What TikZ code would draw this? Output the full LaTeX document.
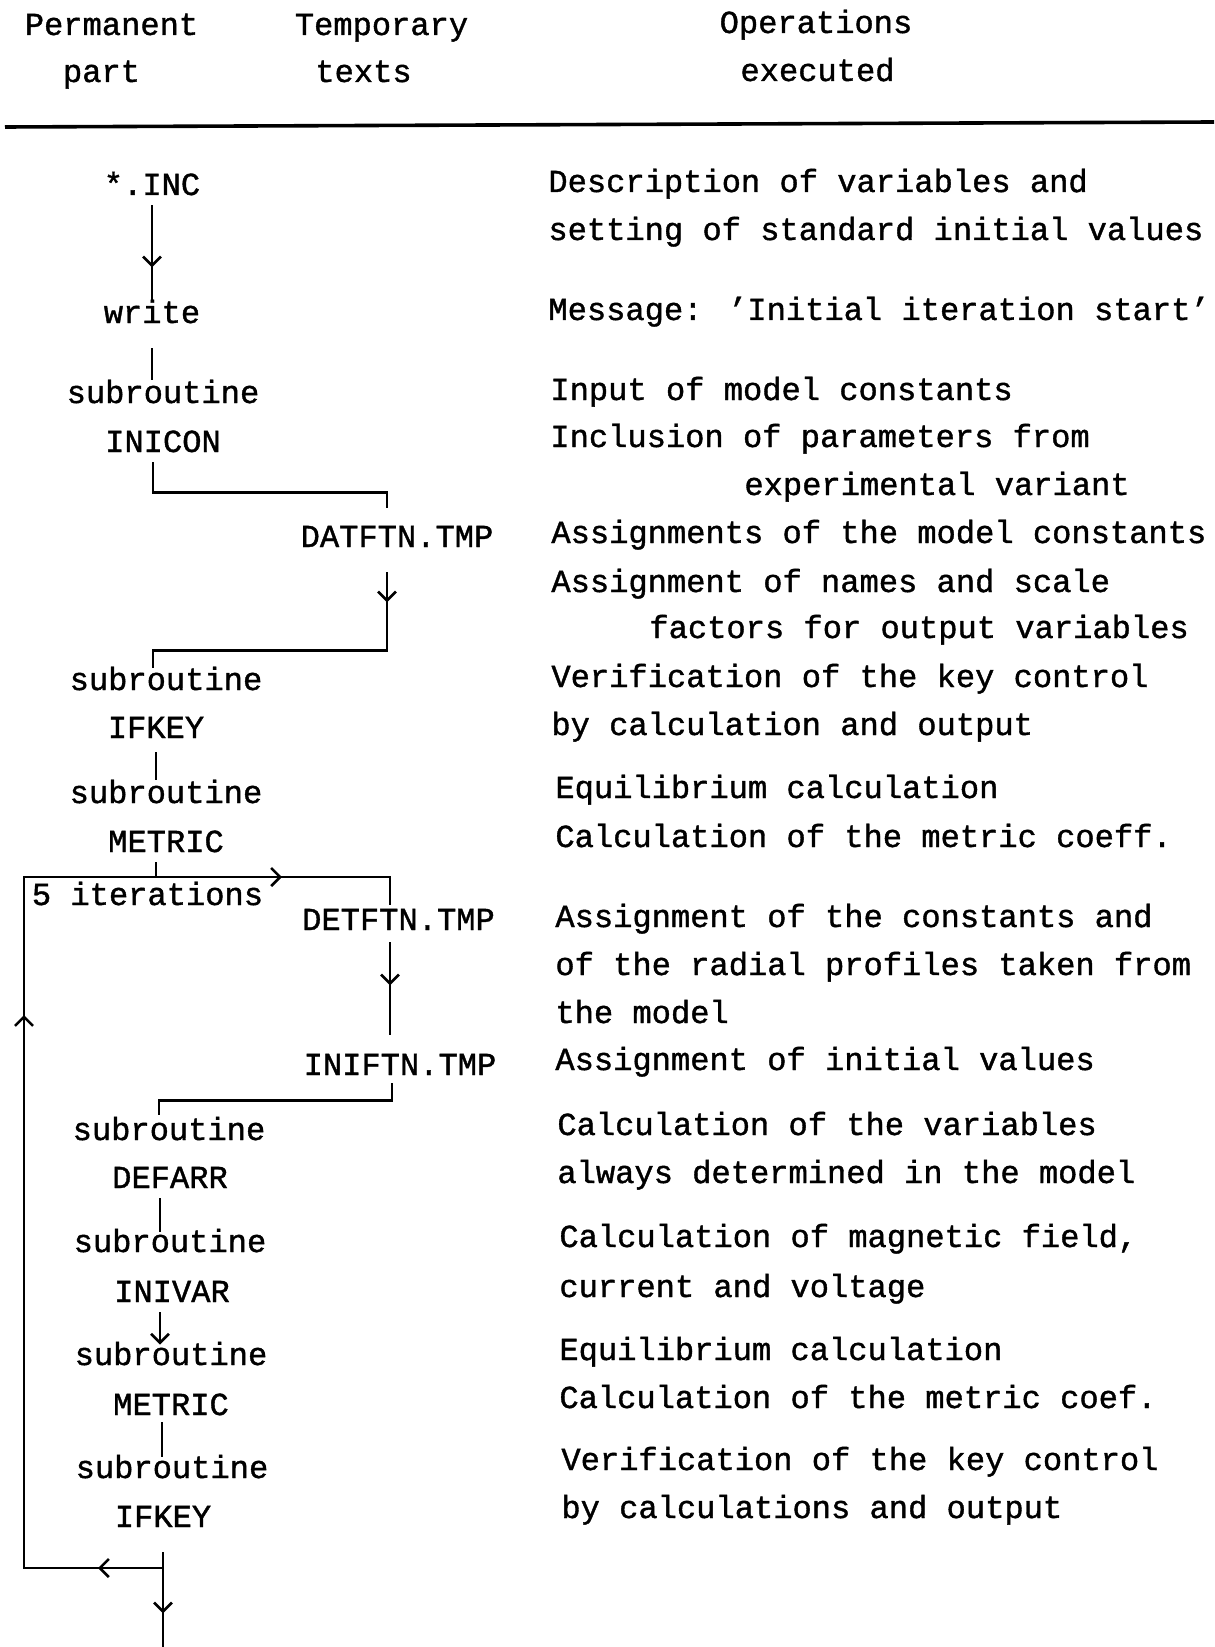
\documentclass[tikz,border=0pt]{standalone}
\usepackage{fontspec}
\newfontfamily\typefont{Liberation Mono}[FakeBold=1.2]
\usetikzlibrary{arrows.meta,decorations.markings}

\begin{document}
\begin{tikzpicture}[x=0.5pt, y=-0.5pt, >={Straight Barb[length=4.5pt,width=9pt]},
every node/.style={font=\typefont\fontsize{16.05}{19}\selectfont, inner sep=0pt},
headnode/.style={anchor=base},
filenode/.style={anchor=base, text height=9pt, text depth=0pt},
opnode/.style={anchor=base west},
link/.style={line width=1.3pt},
arrowat/.style={postaction={decorate, decoration={markings, mark=at position #1 with {\arrow{>}}}}}]
    \useasboundingbox (0,0) rectangle (1214,1647);

    \node[headnode] (permhead1) at (111.5,35) {Permanent};
    \node[headnode] (permhead2) at (101.5,82) {part};
    \node[headnode] (temphead1) at (381.5,35) {Temporary};
    \node[headnode] (temphead2) at (363.5,82) {texts};
    \node[headnode] (ophead1) at (816,33) {Operations};
    \node[headnode] (ophead2) at (817.5,81) {executed};
    \draw[line width=1.8pt] (5,127) -- (1214,122);

    \node[filenode] (inc) at (152,195) {*.INC};
    \node[filenode] (write) at (152,323) {write};
    \node[filenode] (subini) at (163,403) {subroutine};
    \node[filenode] (inicon) at (163,452) {INICON};
    \node[filenode] (datftn) at (397,547) {DATFTN.TMP};
    \node[filenode] (subkey) at (166,690) {subroutine};
    \node[filenode] (ifkey) at (156,738) {IFKEY};
    \node[filenode] (submet) at (166,803) {subroutine};
    \node[filenode] (metric) at (166,852) {METRIC};
    \node[filenode] (iter) at (147.5,905) {5 iterations};
    \node[filenode] (detftn) at (398.5,930) {DETFTN.TMP};
    \node[filenode] (iniftn) at (400,1075) {INIFTN.TMP};
    \node[filenode] (subdef) at (169,1140) {subroutine};
    \node[filenode] (defarr) at (170,1188) {DEFARR};
    \node[filenode] (subvar) at (170,1252) {subroutine};
    \node[filenode] (inivar) at (172,1302) {INIVAR};
    \node[filenode] (submet2) at (171,1365) {subroutine};
    \node[filenode] (metric2) at (171,1415) {METRIC};
    \node[filenode] (subkey2) at (172,1478) {subroutine};
    \node[filenode] (ifkey2) at (163,1527) {IFKEY};

    \node[opnode] (desc1) at (548,192) {Description of variables and};
    \node[opnode] (desc2) at (548,240) {setting of standard initial values};
    \node[opnode] (msg) at (548,320) {Message: ’Initial iteration start’};
    \node[opnode] (inputc) at (550,400) {Input of model constants};
    \node[opnode] (incl1) at (550,447) {Inclusion of parameters from};
    \node[opnode] (incl2) at (744,495) {experimental variant};
    \node[opnode] (assmod) at (551,543) {Assignments of the model constants};
    \node[opnode] (assname1) at (551,592) {Assignment of names and scale};
    \node[opnode] (assname2) at (649,638) {factors for output variables};
    \node[opnode] (verif1) at (551,687) {Verification of the key control};
    \node[opnode] (verif2) at (551,735) {by calculation and output};
    \node[opnode] (equil) at (555,798) {Equilibrium calculation};
    \node[opnode] (metcoef) at (555,847) {Calculation of the metric coeff.};
    \node[opnode] (assprof1) at (555,927) {Assignment of the constants and};
    \node[opnode] (assprof2) at (555,975) {of the radial profiles taken from};
    \node[opnode] (assprof3) at (555,1023) {the model};
    \node[opnode] (assinit) at (555,1070) {Assignment of initial values};
    \node[opnode] (calcvar1) at (557,1135) {Calculation of the variables};
    \node[opnode] (calcvar2) at (557,1183) {always determined in the model};
    \node[opnode] (magfield1) at (559,1247) {Calculation of magnetic field,};
    \node[opnode] (magfield2) at (559,1297) {current and voltage};
    \node[opnode] (equil2) at (559,1360) {Equilibrium calculation};
    \node[opnode] (metcoef2) at (559,1408) {Calculation of the metric coef.};
    \node[opnode] (verif3) at (561,1470) {Verification of the key control};
    \node[opnode] (verif4) at (561,1518) {by calculations and output};

    \coordinate (looptl) at (24,877);
    \coordinate (loopbl) at (24,1568);
    \coordinate (exit) at (163,1647);

    \draw[link, arrowat=31pt] ([yshift=-5pt]inc.south) -- ([yshift=1.5pt]write.north);
    \draw[link] ([yshift=-12.5pt]write.south) -- ([yshift=2.5pt]write.south |- subini.north);
    \draw[link] ([shift={(-5pt,-5pt)}]inicon.south) -- ++(0,30) -| ([shift={(-5pt,10.5pt)}]datftn.north);
    \draw[link, arrowat=15pt] ([shift={(-5pt,-12.5pt)}]datftn.south) -- ++(0,78) -| ([shift={(-6.5pt,2pt)}]subkey.north);
    \draw[link] ([yshift=-7pt]ifkey.south) -- ([yshift=2.5pt]ifkey.south |- submet.north);
    \draw[link] ([shift={(-5pt,-5pt)}]metric.south) -- ([xshift=-5pt]metric.south |- looptl);
    \draw[link, arrowat=32.5pt, arrowat=346pt, arrowat=544pt]
      (ifkey2.south |- loopbl) -- (loopbl) -- (looptl) -| ([shift={(-4.25pt,3.5pt)}]detftn.north);
    \draw[link, arrowat=21.5pt] ([shift={(-4.25pt,-6pt)}]detftn.south) -- ([shift={(-4.25pt,11pt)}]detftn.south |- iniftn.north);
    \draw[link] ([shift={(-4pt,-4pt)}]iniftn.south) -- ++(0,17) -| ([shift={(-5pt,3.5pt)}]subdef.north);
    \draw[link] ([shift={(-5pt,-5pt)}]defarr.south) -- ([shift={(-5pt,1pt)}]defarr.south |- subvar.north);
    \draw[link, ->] ([shift={(-6pt,-5pt)}]inivar.south) -- ([shift={(-6pt,1pt)}]inivar.south |- submet2.north);
    \draw[link] ([shift={(-4.5pt,-3.5pt)}]metric2.south) -- ([shift={(-4.5pt,1.5pt)}]metric2.south |- subkey2.north);
    \draw[link, arrowat=30.5pt] ([yshift=-12.5pt]ifkey2.south) -- (exit);
\end{tikzpicture}
\end{document}
